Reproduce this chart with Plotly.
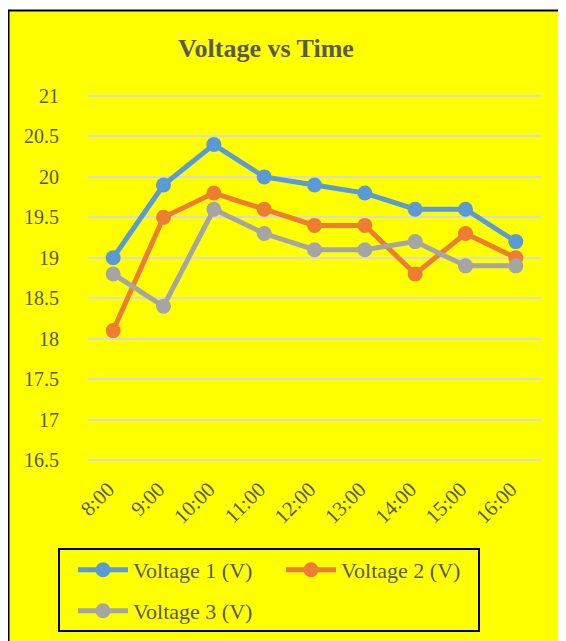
import plotly.graph_objects as go

times = ["8:00", "9:00", "10:00", "11:00", "12:00", "13:00", "14:00", "15:00", "16:00"]
voltage1 = [19.0, 19.9, 20.4, 20.0, 19.9, 19.8, 19.6, 19.6, 19.2]
voltage2 = [18.1, 19.5, 19.8, 19.6, 19.4, 19.4, 18.8, 19.3, 19.0]
voltage3 = [18.8, 18.4, 19.6, 19.3, 19.1, 19.1, 19.2, 18.9, 18.9]
series_names = ["Voltage 1 (V)", "Voltage 2 (V)", "Voltage 3 (V)"]
colors = ["#5B9BD5", "#ED7D31", "#A5A5A5"]
ytick_vals = [16.5, 17, 17.5, 18, 18.5, 19, 19.5, 20, 20.5, 21]

W, H = 558, 633
pad_px = 4
L, R, T, B = 80, 25, 88 - pad_px, 181 - pad_px
pw, ph = W - L - R, H - T - B
pad = pad_px * 0.5 / 40.44  # padding so the edge gridlines show

def px_x(x):
    return (x - L) / pw

def px_y(y):
    return (H - B - y) / ph

fig = go.Figure()
legends = ["legend", "legend", "legend2"]
for name, vals, col, lg in zip(series_names, [voltage1, voltage2, voltage3], colors, legends):
    fig.add_trace(go.Scatter(
        x=times, y=vals, name=name, mode="lines+markers",
        line=dict(color=col, width=5),
        marker=dict(color=col, size=15),
        legend=lg,
    ))

font_family = "Liberation Serif"
grey = "#595959"

fig.update_layout(
    width=W, height=H,
    margin=dict(l=L, r=R, t=T, b=B),
    paper_bgcolor="white",
    plot_bgcolor="rgba(0,0,0,0)",
    font=dict(family=font_family, color=grey, size=20),
    title=dict(text="<b>Voltage vs Time</b>", font=dict(size=26, color=grey, family=font_family),
               x=258 / W, xref="container", xanchor="center",
               y=1 - 40 / H, yref="container", yanchor="middle"),
    xaxis=dict(type="category", range=[-0.5, 8.5], tickangle=-45, showgrid=False,
               showline=False, zeroline=False, tickfont=dict(size=21, color=grey),
               ticklabelstandoff=12 - pad_px, ticklabelshift=-5),
    yaxis=dict(range=[16.5 - pad, 21 + pad], tickvals=ytick_vals,
               ticktext=[f"{v:g}" for v in ytick_vals],
               gridcolor="#D9D9D9", gridwidth=1.5, zeroline=False, showline=False,
               tickfont=dict(size=20, color=grey), ticklabelstandoff=28),
    showlegend=True,
    legend=dict(orientation="h", xref="container", yref="container",
                x=65 / W, xanchor="left", y=1 - 541 / H, yanchor="top",
                entrywidth=143, entrywidthmode="pixels", itemwidth=50,
                font=dict(size=22, color=grey, family=font_family), bgcolor="rgba(0,0,0,0)"),
    legend2=dict(orientation="h", xref="container", yref="container",
                 x=65 / W, xanchor="left", y=1 - 582 / H, yanchor="top",
                 itemwidth=50,
                 font=dict(size=22, color=grey, family=font_family), bgcolor="rgba(0,0,0,0)"),
    shapes=[
        dict(type="rect", xref="paper", yref="paper", layer="below",
             x0=px_x(0.5), x1=px_x(600), y0=px_y(700), y1=px_y(2.5),
             fillcolor="#FFFF00", line=dict(color="black", width=2)),
        dict(type="rect", xref="paper", yref="paper", layer="above",
             x0=px_x(51), x1=px_x(471), y0=px_y(623), y1=px_y(541),
             fillcolor="rgba(0,0,0,0)", line=dict(color="black", width=2)),
    ],
)

fig.write_html("out.html")
